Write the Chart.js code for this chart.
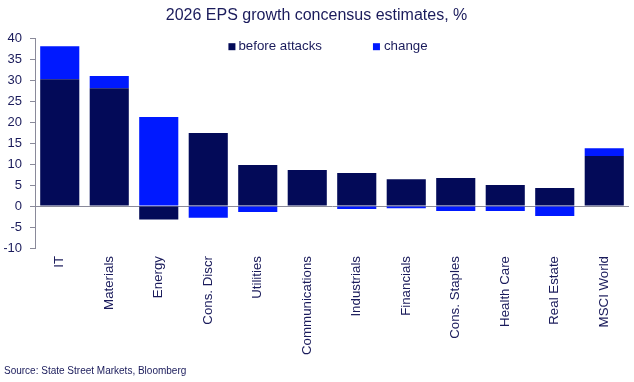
<!DOCTYPE html>
<html>
<head>
<meta charset="utf-8">
<script src="https://cdn.jsdelivr.net/npm/chart.js@4"></script>
<style>
  html, body { margin: 0; padding: 0; background: #fff; }
  #wrap { width: 634px; height: 382px; }
</style>
</head>
<body>
<div id="wrap"><canvas id="chart"></canvas></div>
<script>
const categories = ['IT', 'Materials', 'Energy', 'Cons. Discr', 'Utilities', 'Communications',
  'Industrials', 'Financials', 'Cons. Staples', 'Health Care', 'Real Estate', 'MSCI World']
const beforeAttacks = [30.2, 28.1, -3.2, 17.4, 9.8, 8.6, 7.9, 6.4, 6.7, 5.0, 4.3, 11.9]
const change = [7.9, 2.9, 21.2, -2.8, -1.4, 0, -0.7, -0.5, -1.2, -1.2, -2.4, 1.9]
const yTicks = { min: -10, max: 40, step: 5 }

const textColor = '#1a1b5b'
const axisColor = '#8a8a9a'
const font = 'Liberation Sans, Arial, sans-serif'

// legend drawn inside the plot area, near the top
const innerLegend = {
  id: 'innerLegend',
  afterDraw(chart) {
    const ctx = chart.ctx
    const area = chart.chartArea
    const items = chart.data.datasets
    ctx.save()
    ctx.font = '13.3px ' + font
    ctx.textBaseline = 'middle'
    const box = 7, gap = [3, 4], between = 51
    let total = 0
    items.forEach((ds, i) => {
      total += box + gap[i] + ctx.measureText(ds.label).width
      if (i < items.length - 1) total += between
    })
    let x = (area.left + area.right) / 2 - 4 - total / 2
    const y = area.top + 8.5
    items.forEach((ds, i) => {
      ctx.fillStyle = ds.backgroundColor
      ctx.fillRect(x, y - box / 2, box, box)
      x += box + gap[i]
      ctx.fillStyle = textColor
      ctx.fillText(ds.label, x, y)
      x += ctx.measureText(ds.label).width + between
    })
    ctx.restore()
  }
}

new Chart(document.getElementById('chart'), {
  type: 'bar',
  data: {
    labels: categories,
    datasets: [
      { label: 'before attacks', data: beforeAttacks, backgroundColor: '#030a58' },
      { label: 'change', data: change, backgroundColor: '#0019ff' }
    ]
  },
  options: {
    responsive: true,
    maintainAspectRatio: false,
    animation: false,
    layout: { padding: { left: 4, right: 5, top: 0, bottom: 0 } },
    datasets: { bar: { categoryPercentage: 1, barPercentage: 0.79 } },
    plugins: {
      legend: { display: false },
      tooltip: { enabled: false },
      title: {
        display: true,
        text: '2026 EPS growth concensus estimates, %',
        color: textColor,
        font: { family: font, size: 16, weight: 'normal' },
        padding: { top: 6, bottom: 13 }
      },
      subtitle: {
        display: true,
        position: 'bottom',
        align: 'start',
        text: 'Source: State Street Markets, Bloomberg',
        color: textColor,
        font: { family: font, size: 10 },
        padding: { top: 4, bottom: 5 }
      }
    },
    scales: {
      x: {
        stacked: true,
        grid: { display: false },
        border: { display: false },
        ticks: {
          color: textColor,
          font: { family: font, size: 13.3 },
          minRotation: 90,
          maxRotation: 90,
          padding: 0,
          autoSkip: false
        },
        afterFit(scale) { scale.height = 113 }
      },
      y: {
        stacked: true,
        min: yTicks.min,
        max: yTicks.max,
        border: { display: true, color: axisColor, width: 1 },
        grid: {
          color: c => (c.tick && c.tick.value === 0 ? axisColor : 'transparent'),
          tickColor: axisColor,
          tickLength: 5,
          lineWidth: 1
        },
        ticks: {
          stepSize: yTicks.step,
          color: textColor,
          font: { family: font, size: 13 },
          padding: 8
        },
        afterFit(scale) { scale.width = 31 }
      }
    }
  },
  plugins: [innerLegend]
})
</script>
</body>
</html>
